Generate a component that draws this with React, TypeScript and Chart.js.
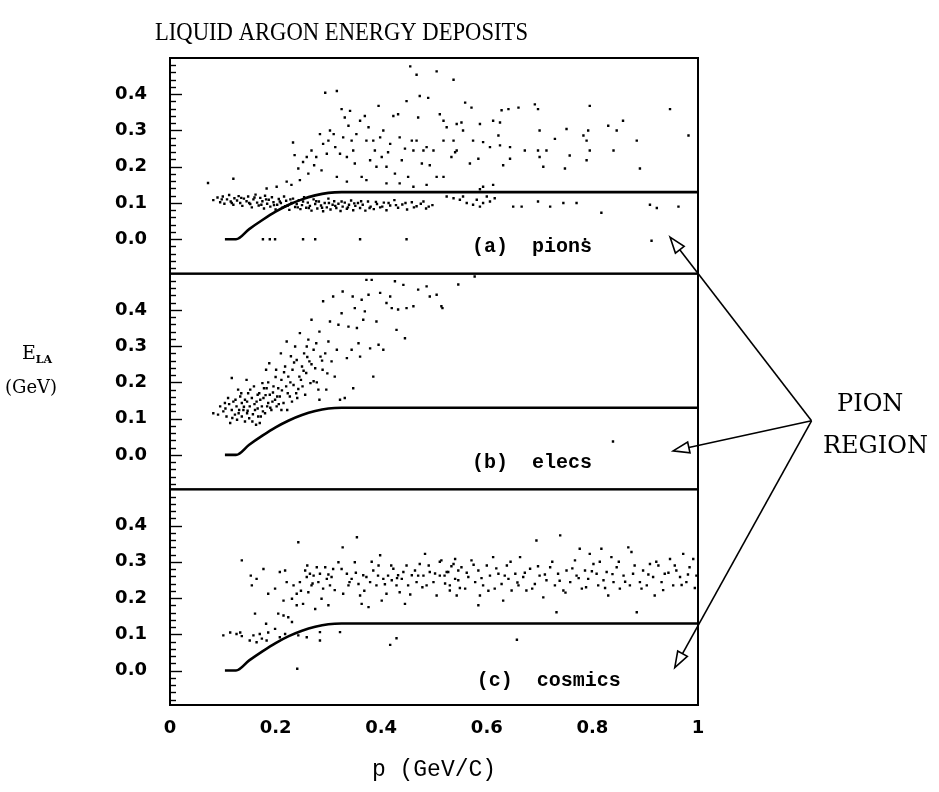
import React, { useEffect, useRef } from 'react';
import { Chart, registerables } from 'chart.js';

Chart.register(...registerables);

// Axis layout
const X_TICKS = [0, 0.2, 0.4, 0.6, 0.8, 1];
const Y_TICKS = [0, 0.1, 0.2, 0.3, 0.4];
const Y_MIN = -0.095;
const Y_MAX = 0.5;

// Pion-region boundary curve, shared by all three panels
const CURVE_P = [0.104, 0.125, 0.15, 0.175, 0.2, 0.225, 0.25, 0.275, 0.3, 0.325, 1.0];
const CURVE_E = [0, 0, 0.028, 0.053, 0.076, 0.095, 0.11, 0.121, 0.128, 0.13, 0.13];

// (a) pions: [p, E_LA]
const PION_HITS: number[][] = [
  [0.082, 0.108], [0.09, 0.115], [0.095, 0.102], [0.1, 0.118], [0.103, 0.098], [0.108, 0.11], [0.112, 0.122],
  [0.115, 0.104], [0.12, 0.095], [0.122, 0.113], [0.127, 0.107], [0.13, 0.119], [0.133, 0.1], [0.137, 0.092],
  [0.14, 0.112], [0.145, 0.105], [0.148, 0.118], [0.152, 0.097], [0.155, 0.088], [0.158, 0.11], [0.162, 0.123],
  [0.165, 0.101], [0.168, 0.093], [0.171, 0.114], [0.175, 0.105], [0.178, 0.085], [0.18, 0.12], [0.184, 0.098],
  [0.187, 0.109], [0.19, 0.09], [0.193, 0.116], [0.196, 0.102], [0.2, 0.082], [0.203, 0.095], [0.206, 0.111],
  [0.21, 0.1], [0.213, 0.087], [0.216, 0.118], [0.22, 0.106], [0.223, 0.093], [0.226, 0.081], [0.23, 0.1],
  [0.233, 0.112], [0.237, 0.089], [0.24, 0.097], [0.244, 0.108], [0.247, 0.083], [0.25, 0.094], [0.254, 0.116],
  [0.258, 0.087], [0.261, 0.101], [0.265, 0.092], [0.268, 0.079], [0.272, 0.11], [0.275, 0.097], [0.279, 0.085],
  [0.282, 0.104], [0.286, 0.093], [0.29, 0.077], [0.293, 0.1], [0.297, 0.088], [0.3, 0.112], [0.304, 0.082],
  [0.308, 0.095], [0.311, 0.105], [0.315, 0.086], [0.319, 0.098], [0.323, 0.078], [0.327, 0.09], [0.331, 0.101],
  [0.335, 0.084], [0.339, 0.095], [0.343, 0.107], [0.347, 0.08], [0.351, 0.092], [0.356, 0.1], [0.36, 0.086],
  [0.365, 0.095], [0.37, 0.079], [0.375, 0.104], [0.38, 0.09], [0.386, 0.083], [0.392, 0.097], [0.398, 0.088],
  [0.405, 0.101], [0.41, 0.08], [0.417, 0.093], [0.425, 0.108], [0.432, 0.087], [0.44, 0.096], [0.449, 0.082],
  [0.458, 0.102], [0.467, 0.091], [0.475, 0.098], [0.485, 0.085], [0.497, 0.094],
  [0.098, 0.11], [0.117, 0.1], [0.135, 0.114], [0.15, 0.1], [0.16, 0.115], [0.173, 0.095], [0.182, 0.11],
  [0.197, 0.094], [0.208, 0.104], [0.218, 0.091], [0.228, 0.11], [0.242, 0.088], [0.252, 0.104], [0.263, 0.086],
  [0.277, 0.105], [0.288, 0.087], [0.301, 0.1], [0.313, 0.092], [0.325, 0.104], [0.337, 0.088], [0.349, 0.099],
  [0.362, 0.105], [0.378, 0.086], [0.39, 0.103], [0.402, 0.09], [0.414, 0.1], [0.428, 0.094], [0.446, 0.1],
  [0.462, 0.088], [0.48, 0.104], [0.49, 0.09],
  [0.524, 0.118], [0.537, 0.113], [0.549, 0.109], [0.555, 0.118], [0.562, 0.1], [0.574, 0.095], [0.581, 0.109],
  [0.587, 0.09], [0.593, 0.1], [0.6, 0.118], [0.606, 0.104], [0.615, 0.113], [0.65, 0.09], [0.666, 0.09],
  [0.697, 0.104], [0.72, 0.09], [0.745, 0.1], [0.77, 0.1], [0.817, 0.073], [0.909, 0.095], [0.922, 0.086],
  [0.963, 0.09],
  [0.176, 0], [0.189, 0], [0.199, 0], [0.252, 0], [0.275, 0], [0.36, 0], [0.448, 0], [0.786, 0], [0.912, -0.004],
  [0.072, 0.155], [0.12, 0.167],
  [0.233, 0.267], [0.236, 0.232], [0.243, 0.195], [0.252, 0.213], [0.259, 0.227], [0.262, 0.181], [0.268, 0.245],
  [0.273, 0.204], [0.277, 0.227], [0.284, 0.29], [0.287, 0.19], [0.29, 0.263], [0.297, 0.236], [0.3, 0.272],
  [0.303, 0.3], [0.31, 0.29], [0.313, 0.254], [0.316, 0.172], [0.322, 0.236], [0.325, 0.359], [0.328, 0.281],
  [0.331, 0.336], [0.335, 0.227], [0.338, 0.313], [0.341, 0.354], [0.344, 0.272], [0.347, 0.245], [0.35, 0.209],
  [0.353, 0.29], [0.36, 0.327], [0.363, 0.172], [0.369, 0.34], [0.372, 0.272], [0.376, 0.309], [0.379, 0.218],
  [0.385, 0.272], [0.388, 0.245], [0.391, 0.2], [0.395, 0.368], [0.398, 0.281], [0.401, 0.227], [0.404, 0.3],
  [0.41, 0.2], [0.413, 0.24], [0.417, 0.263], [0.423, 0.34], [0.426, 0.181], [0.432, 0.345], [0.435, 0.281],
  [0.439, 0.218], [0.445, 0.25], [0.448, 0.381], [0.451, 0.172], [0.458, 0.272], [0.461, 0.245], [0.467, 0.272],
  [0.47, 0.336], [0.473, 0.395], [0.477, 0.209], [0.48, 0.245], [0.486, 0.254], [0.489, 0.39], [0.492, 0.204],
  [0.499, 0.245], [0.505, 0.172], [0.511, 0.345], [0.518, 0.272], [0.524, 0.309], [0.533, 0.227], [0.54, 0.24],
  [0.467, 0.454], [0.455, 0.477], [0.505, 0.463], [0.537, 0.44], [0.294, 0.404], [0.316, 0.409],
  [0.246, 0.163], [0.221, 0.159], [0.23, 0.15], [0.202, 0.145], [0.183, 0.14], [0.335, 0.159], [0.372, 0.163],
  [0.41, 0.154], [0.435, 0.154], [0.461, 0.145], [0.486, 0.15],
  [0.559, 0.377], [0.571, 0.363], [0.628, 0.356], [0.641, 0.359], [0.66, 0.363], [0.691, 0.372], [0.697, 0.359],
  [0.795, 0.368], [0.947, 0.359], [0.518, 0.327], [0.543, 0.318], [0.552, 0.322], [0.555, 0.3], [0.587, 0.318],
  [0.612, 0.327], [0.625, 0.322], [0.7, 0.3], [0.751, 0.304], [0.783, 0.286], [0.792, 0.3], [0.83, 0.313],
  [0.846, 0.3], [0.858, 0.327], [0.884, 0.272], [0.982, 0.286], [0.537, 0.272], [0.543, 0.245], [0.574, 0.272],
  [0.593, 0.268], [0.622, 0.286], [0.625, 0.259], [0.606, 0.254], [0.644, 0.254], [0.672, 0.245], [0.697, 0.245],
  [0.713, 0.245], [0.729, 0.277], [0.757, 0.231], [0.789, 0.272], [0.795, 0.245], [0.84, 0.245], [0.568, 0.209],
  [0.584, 0.222], [0.631, 0.204], [0.644, 0.222], [0.7, 0.227], [0.707, 0.2], [0.748, 0.195], [0.789, 0.218],
  [0.89, 0.195], [0.518, 0.172], [0.593, 0.145], [0.612, 0.15], [0.587, 0.138],
];

// (b) electrons: [p, E_LA]
const ELEC_HITS: number[][] = [
  [0.082, 0.115], [0.091, 0.111], [0.095, 0.134], [0.101, 0.12], [0.104, 0.143], [0.107, 0.106], [0.11, 0.157],
  [0.114, 0.088], [0.117, 0.124], [0.117, 0.212], [0.12, 0.147], [0.123, 0.111], [0.126, 0.134], [0.129, 0.18],
  [0.133, 0.161], [0.136, 0.106], [0.136, 0.143], [0.139, 0.124], [0.142, 0.152], [0.145, 0.207], [0.146, 0.115],
  [0.148, 0.17], [0.151, 0.134], [0.155, 0.157], [0.156, 0.092], [0.159, 0.189], [0.161, 0.124], [0.164, 0.147],
  [0.167, 0.106], [0.169, 0.17], [0.17, 0.088], [0.174, 0.134], [0.175, 0.198], [0.177, 0.157], [0.18, 0.115],
  [0.182, 0.235], [0.183, 0.184], [0.186, 0.143], [0.188, 0.253], [0.189, 0.166], [0.192, 0.124], [0.196, 0.189],
  [0.199, 0.152], [0.201, 0.235], [0.202, 0.134], [0.205, 0.184], [0.208, 0.161], [0.21, 0.28], [0.211, 0.207],
  [0.215, 0.143], [0.218, 0.244], [0.22, 0.189], [0.221, 0.313], [0.224, 0.216], [0.227, 0.161], [0.229, 0.272],
  [0.232, 0.235], [0.234, 0.193], [0.237, 0.299], [0.24, 0.262], [0.241, 0.157], [0.245, 0.216], [0.246, 0.336],
  [0.25, 0.244], [0.251, 0.189], [0.254, 0.28], [0.258, 0.226], [0.259, 0.299], [0.262, 0.318], [0.264, 0.258],
  [0.266, 0.198], [0.268, 0.373], [0.272, 0.29], [0.275, 0.239], [0.277, 0.308], [0.281, 0.18], [0.283, 0.34],
  [0.285, 0.271], [0.289, 0.235], [0.29, 0.424], [0.294, 0.28], [0.296, 0.18], [0.3, 0.313], [0.303, 0.368],
  [0.306, 0.258], [0.309, 0.437], [0.312, 0.216], [0.316, 0.29], [0.319, 0.359], [0.322, 0.152], [0.325, 0.391],
  [0.327, 0.451], [0.331, 0.157], [0.335, 0.267], [0.338, 0.354], [0.344, 0.29], [0.346, 0.437], [0.347, 0.184],
  [0.35, 0.405], [0.354, 0.35], [0.357, 0.308], [0.36, 0.271], [0.363, 0.428], [0.366, 0.373], [0.369, 0.396],
  [0.376, 0.442], [0.379, 0.294], [0.382, 0.483], [0.385, 0.216], [0.391, 0.368], [0.395, 0.304], [0.398, 0.447],
  [0.404, 0.29], [0.41, 0.419], [0.417, 0.437], [0.42, 0.405], [0.426, 0.479], [0.429, 0.345], [0.432, 0.401],
  [0.442, 0.469], [0.445, 0.322], [0.448, 0.405], [0.461, 0.41], [0.47, 0.456], [0.486, 0.465], [0.492, 0.437],
  [0.505, 0.442], [0.516, 0.405], [0.546, 0.47], [0.372, 0.483], [0.514, 0.41], [0.577, 0.492],
  [0.127, 0.097], [0.142, 0.092], [0.15, 0.101], [0.163, 0.083], [0.172, 0.106], [0.131, 0.124], [0.146, 0.147],
  [0.166, 0.166], [0.178, 0.184], [0.184, 0.134], [0.194, 0.147], [0.203, 0.161], [0.211, 0.124], [0.222, 0.124],
  [0.231, 0.147], [0.239, 0.17], [0.248, 0.207], [0.256, 0.166], [0.272, 0.203], [0.283, 0.152],
  [0.105, 0.128], [0.112, 0.14], [0.118, 0.102], [0.124, 0.152], [0.13, 0.115], [0.135, 0.17], [0.14, 0.133],
  [0.147, 0.122], [0.152, 0.18], [0.157, 0.112], [0.16, 0.14], [0.166, 0.128], [0.171, 0.152], [0.176, 0.12],
  [0.181, 0.165], [0.186, 0.2], [0.19, 0.13], [0.195, 0.172], [0.2, 0.215], [0.206, 0.14], [0.212, 0.178],
  [0.216, 0.228], [0.223, 0.17], [0.228, 0.2], [0.235, 0.255], [0.243, 0.182], [0.253, 0.232], [0.26, 0.27],
  [0.268, 0.25], [0.278, 0.2], [0.288, 0.26], [0.298, 0.225],
  [0.839, 0.037],
];

// (c) cosmics: [p, E_LA]
const COSMIC_HITS: number[][] = [
  [0.101, 0.097], [0.114, 0.105], [0.126, 0.101], [0.136, 0.095], [0.133, 0.105], [0.151, 0.083], [0.158, 0.097],
  [0.164, 0.078], [0.17, 0.101], [0.174, 0.088], [0.183, 0.083], [0.186, 0.105], [0.199, 0.115], [0.208, 0.092],
  [0.218, 0.101], [0.243, 0.097], [0.284, 0.106], [0.284, 0.083], [0.322, 0.106], [0.259, 0.092], [0.241, 0.005],
  [0.161, 0.157], [0.182, 0.129], [0.205, 0.157], [0.215, 0.152], [0.231, 0.134], [0.224, 0.147], [0.429, 0.089],
  [0.417, 0.071],
  [0.136, 0.304], [0.153, 0.262], [0.155, 0.235], [0.164, 0.253], [0.177, 0.28], [0.186, 0.212], [0.199, 0.226],
  [0.208, 0.272], [0.218, 0.276], [0.215, 0.193], [0.221, 0.244], [0.231, 0.198], [0.234, 0.235], [0.24, 0.212],
  [0.24, 0.18], [0.243, 0.354], [0.246, 0.244], [0.252, 0.184], [0.256, 0.276], [0.259, 0.258], [0.262, 0.216],
  [0.265, 0.267], [0.268, 0.235], [0.272, 0.262], [0.275, 0.17], [0.278, 0.285], [0.281, 0.244], [0.284, 0.267],
  [0.287, 0.198], [0.29, 0.226], [0.294, 0.285], [0.297, 0.253], [0.3, 0.18], [0.303, 0.235], [0.306, 0.258],
  [0.309, 0.28], [0.319, 0.299], [0.327, 0.34], [0.328, 0.212], [0.335, 0.267], [0.338, 0.235], [0.344, 0.253],
  [0.35, 0.299], [0.354, 0.368], [0.357, 0.239], [0.36, 0.207], [0.363, 0.184], [0.366, 0.263], [0.372, 0.258],
  [0.376, 0.175], [0.379, 0.244], [0.385, 0.276], [0.391, 0.235], [0.395, 0.29], [0.398, 0.318], [0.401, 0.193],
  [0.404, 0.253], [0.41, 0.212], [0.413, 0.262], [0.42, 0.249], [0.423, 0.281], [0.429, 0.235], [0.432, 0.263],
  [0.435, 0.216], [0.439, 0.253], [0.445, 0.184], [0.448, 0.29], [0.451, 0.235], [0.458, 0.263], [0.464, 0.276],
  [0.467, 0.244], [0.473, 0.294], [0.48, 0.262], [0.483, 0.322], [0.486, 0.235], [0.492, 0.272], [0.499, 0.244],
  [0.505, 0.207], [0.511, 0.262], [0.514, 0.304], [0.521, 0.24], [0.527, 0.272], [0.53, 0.221], [0.537, 0.294],
  [0.54, 0.253], [0.546, 0.276], [0.543, 0.207],
  [0.511, 0.3], [0.524, 0.272], [0.53, 0.235], [0.54, 0.308], [0.546, 0.249], [0.552, 0.285], [0.559, 0.226],
  [0.565, 0.258], [0.571, 0.304], [0.578, 0.244], [0.584, 0.276], [0.587, 0.207], [0.593, 0.235], [0.6, 0.29],
  [0.606, 0.262], [0.612, 0.313], [0.615, 0.226], [0.622, 0.267], [0.628, 0.239], [0.631, 0.193], [0.638, 0.29],
  [0.641, 0.253], [0.647, 0.221], [0.654, 0.267], [0.66, 0.235], [0.663, 0.313], [0.669, 0.258], [0.675, 0.221],
  [0.682, 0.281], [0.691, 0.239], [0.694, 0.359], [0.7, 0.262], [0.707, 0.202], [0.713, 0.249], [0.72, 0.285],
  [0.729, 0.235], [0.735, 0.267], [0.739, 0.373], [0.745, 0.221], [0.751, 0.276], [0.758, 0.244], [0.767, 0.304],
  [0.77, 0.262], [0.776, 0.336], [0.78, 0.226], [0.786, 0.276], [0.792, 0.253], [0.795, 0.322], [0.802, 0.294],
  [0.808, 0.267], [0.811, 0.235], [0.817, 0.336], [0.821, 0.249], [0.827, 0.272], [0.83, 0.207], [0.836, 0.313],
  [0.84, 0.244], [0.846, 0.285], [0.852, 0.226], [0.859, 0.262], [0.868, 0.34], [0.871, 0.235], [0.874, 0.327],
  [0.877, 0.267], [0.884, 0.161], [0.89, 0.244], [0.896, 0.276], [0.903, 0.235], [0.909, 0.294], [0.915, 0.258],
  [0.918, 0.207], [0.925, 0.29], [0.931, 0.244], [0.937, 0.267], [0.947, 0.308], [0.953, 0.235], [0.959, 0.276],
  [0.966, 0.258], [0.972, 0.322], [0.978, 0.244], [0.984, 0.285], [0.991, 0.308], [0.997, 0.262], [0.732, 0.161],
  [0.584, 0.18], [0.657, 0.085],
  [0.52, 0.262], [0.533, 0.288], [0.549, 0.228], [0.562, 0.27], [0.575, 0.292], [0.59, 0.255], [0.603, 0.22],
  [0.618, 0.282], [0.634, 0.262], [0.645, 0.3], [0.658, 0.243], [0.672, 0.27], [0.686, 0.226], [0.697, 0.288],
  [0.71, 0.265], [0.724, 0.3], [0.738, 0.248], [0.749, 0.215], [0.762, 0.282], [0.774, 0.255], [0.788, 0.23],
  [0.799, 0.274], [0.814, 0.3], [0.824, 0.228], [0.838, 0.266], [0.85, 0.3], [0.862, 0.245], [0.88, 0.29],
  [0.893, 0.226], [0.906, 0.265], [0.921, 0.3], [0.934, 0.222], [0.944, 0.27], [0.956, 0.29], [0.969, 0.236],
  [0.981, 0.265], [0.994, 0.228],
  [0.3, 0.265], [0.312, 0.222], [0.325, 0.28], [0.34, 0.244], [0.352, 0.27], [0.368, 0.22], [0.382, 0.3],
  [0.394, 0.262], [0.407, 0.238], [0.419, 0.29], [0.43, 0.255], [0.442, 0.272], [0.455, 0.21], [0.47, 0.262],
  [0.478, 0.23], [0.49, 0.29], [0.502, 0.268], [0.26, 0.29], [0.27, 0.24], [0.248, 0.22],
];

const PANEL_AXES = ['yA', 'yB', 'yC'];
const PANEL_HITS = [PION_HITS, ELEC_HITS, COSMIC_HITS];
const PANEL_NAMES = ['(a)  pions', '(b)  elecs', '(c)  cosmics'];
const PANEL_LABEL_AT = [[0.572, -0.022], [0.572, -0.022], [0.581, -0.03]];

// "PION REGION" pointers: common apex (in panel b units) and one tip per panel
const ARROW_APEX = [1.215, 0.094];
const ARROW_TIPS = [[0.947, 0.006], [0.953, 0.011], [0.956, 0.008]];

const TITLE = 'LIQUID ARGON ENERGY DEPOSITS';

const decorations = {
  id: 'decorations',
  afterDraw(chart: any) {
    const { ctx, chartArea, scales } = chart;
    const xs = scales.x;
    ctx.save();
    ctx.strokeStyle = '#000';
    ctx.fillStyle = '#000';

    PANEL_AXES.forEach((id, i) => {
      const ys = scales[id];
      ctx.lineWidth = 2;
      ctx.strokeRect(chartArea.left, ys.top, chartArea.right - chartArea.left, ys.bottom - ys.top);
      ctx.lineWidth = 1.4;
      for (let k = -4; k <= 24; k++) {
        const py = Math.round(ys.getPixelForValue(k / 50)) + 0.5;
        const len = k % 5 === 0 ? 12 : 6;
        ctx.beginPath();
        ctx.moveTo(chartArea.left, py);
        ctx.lineTo(chartArea.left + len, py);
        ctx.stroke();
      }
      ctx.font = 'bold 20px "Liberation Mono"';
      ctx.textAlign = 'left';
      ctx.textBaseline = 'middle';
      const [lp, le] = PANEL_LABEL_AT[i];
      ctx.fillText(PANEL_NAMES[i], xs.getPixelForValue(lp), ys.getPixelForValue(le));
    });

    const ax = xs.getPixelForValue(ARROW_APEX[0]);
    const ay = scales.yB.getPixelForValue(ARROW_APEX[1]);
    ARROW_TIPS.forEach(([p, e], i) => {
      const ys = scales[PANEL_AXES[i]];
      const tx = xs.getPixelForValue(p);
      const ty = ys.getPixelForValue(e);
      const dx = tx - ax;
      const dy = ty - ay;
      const d = Math.hypot(dx, dy);
      const ux = dx / d;
      const uy = dy / d;
      const L = 16;
      const W = 5.5;
      const bx = tx - ux * L;
      const by = ty - uy * L;
      ctx.lineWidth = 1.6;
      ctx.beginPath();
      ctx.moveTo(ax, ay);
      ctx.lineTo(bx, by);
      ctx.stroke();
      ctx.beginPath();
      ctx.moveTo(tx, ty);
      ctx.lineTo(bx - uy * W, by + ux * W);
      ctx.lineTo(bx + uy * W, by - ux * W);
      ctx.closePath();
      ctx.fillStyle = '#fff';
      ctx.fill();
      ctx.stroke();
      ctx.fillStyle = '#000';
    });

    ctx.textAlign = 'left';
    ctx.textBaseline = 'middle';
    ctx.font = '24px "DejaVu Serif"';
    ctx.fillText('PION', chartArea.right + 139, 405);
    ctx.fillText('REGION', chartArea.right + 125, 447);

    // title, slightly condensed
    ctx.font = '26px "Liberation Serif"';
    ctx.textBaseline = 'alphabetic';
    const tw = ctx.measureText(TITLE).width;
    ctx.save();
    ctx.translate(155, 40);
    ctx.scale(373 / tw, 1);
    ctx.fillText(TITLE, 0, 0);
    ctx.restore();

    // vertical-axis caption
    ctx.font = '19px "DejaVu Serif"';
    ctx.fillText('E', 22, 359);
    const ew = ctx.measureText('E').width;
    ctx.font = 'bold 11px "DejaVu Serif"';
    ctx.fillText('LA', 22 + ew, 363);
    ctx.font = '18px "DejaVu Serif"';
    ctx.fillText('(GeV)', 5, 393);

    ctx.restore();
  },
};

function yScale(weight: number) {
  return {
    type: 'linear',
    position: 'left',
    stack: 'ela',
    stackWeight: 1,
    weight,
    min: Y_MIN,
    max: Y_MAX,
    grid: { display: false, drawTicks: false },
    border: { display: false },
    afterBuildTicks: (s: any) => {
      s.ticks = Y_TICKS.map((v) => ({ value: v }));
    },
    afterFit: (s: any) => {
      s.width = 170;
    },
    ticks: {
      padding: 23,
      color: '#000',
      font: { family: '"DejaVu Sans"', size: 18, weight: 'bold' },
      callback: (v: any) => Number(v).toFixed(1),
    },
  };
}

export default function App() {
  const ref = useRef<HTMLCanvasElement | null>(null);

  useEffect(() => {
    if (!ref.current) return;
    const datasets: any[] = [];
    PANEL_AXES.forEach((id, i) => {
      datasets.push({
        type: 'line',
        data: CURVE_P.map((p, k) => ({ x: p, y: CURVE_E[k] })),
        yAxisID: id,
        xAxisID: 'x',
        showLine: true,
        borderColor: '#000',
        borderWidth: 2.6,
        pointRadius: 0,
        cubicInterpolationMode: 'monotone',
        fill: false,
      });
      datasets.push({
        type: 'scatter',
        data: PANEL_HITS[i].map(([p, e]) => ({ x: p, y: e })),
        yAxisID: id,
        xAxisID: 'x',
        pointStyle: 'rect',
        pointRadius: 1.7,
        borderWidth: 0,
        backgroundColor: '#000',
      });
    });

    const chart = new Chart(ref.current, {
      type: 'scatter',
      data: { datasets },
      options: {
        responsive: false,
        animation: false,
        events: [],
        layout: { padding: { left: 0, top: 58, right: 241, bottom: 0 } },
        plugins: { legend: { display: false }, tooltip: { enabled: false }, title: { display: false } },
        scales: {
          x: {
            type: 'linear',
            position: 'bottom',
            min: 0,
            max: 1,
            grid: { display: false, drawTicks: false },
            border: { display: false },
            afterBuildTicks: (s: any) => {
              s.ticks = X_TICKS.map((v) => ({ value: v }));
            },
            afterFit: (s: any) => {
              s.height = 87;
            },
            ticks: {
              padding: 13,
              color: '#000',
              maxRotation: 0,
              autoSkip: false,
              font: { family: '"DejaVu Sans"', size: 18, weight: 'bold' },
              callback: (v: any) => String(v),
            },
            title: {
              display: true,
              text: 'p (GeV/C)',
              color: '#000',
              font: { family: '"Liberation Mono"', size: 23 },
              padding: { top: 0, bottom: 8 },
            },
          },
          yA: yScale(3),
          yB: yScale(2),
          yC: yScale(1),
        } as any,
      },
      plugins: [decorations],
    } as any);
    return () => chart.destroy();
  }, []);

  return (
    <canvas
      ref={ref}
      width={939}
      height={792}
      style={{ display: 'block', position: 'absolute', left: 0, top: 0 }}
    />
  );
}
